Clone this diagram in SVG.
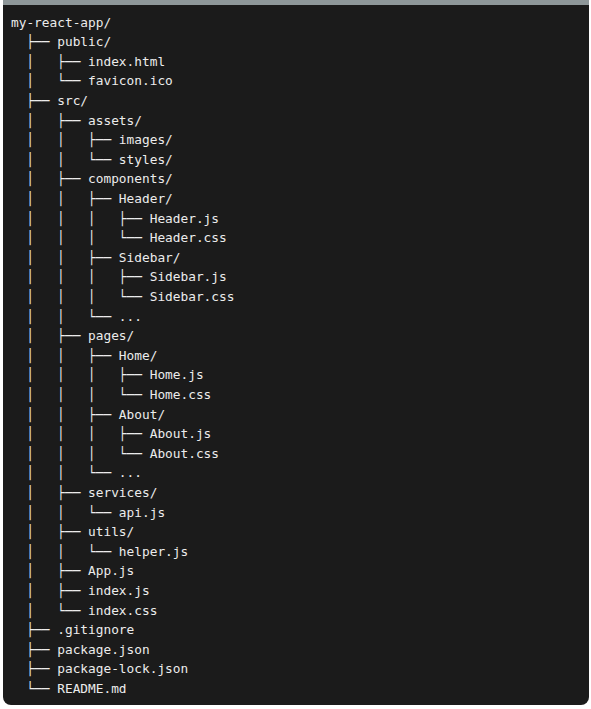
<svg xmlns="http://www.w3.org/2000/svg" width="591" height="709" viewBox="0 0 591 709">
<style>
.t{font-family:"DejaVu Sans Mono","Liberation Mono",monospace;font-size:12.8px;fill:#ececec;white-space:pre}
</style>
<rect x="0" y="0" width="591" height="709" fill="#ffffff"/>
<path d="M3,0 H589 V697 A8,8 0 0 1 581,705 H11 A8,8 0 0 1 3,697 Z" fill="#1b1b1b"/>
<rect x="3" y="0" width="586" height="5" fill="#8e9799"/>
<g id="tree" xml:space="preserve" transform="translate(0,-0.7)">
<text id="n0" class="t" x="11" y="27.3">my-react-app/</text>
<text id="n1" class="t" x="11" y="46.9">  ├── public/</text>
<text id="n2" class="t" x="11" y="66.5">  │   ├── index.html</text>
<text id="n3" class="t" x="11" y="86.1">  │   └── favicon.ico</text>
<text id="n4" class="t" x="11" y="105.7">  ├── src/</text>
<text id="n5" class="t" x="11" y="125.3">  │   ├── assets/</text>
<text id="n6" class="t" x="11" y="144.9">  │   │   ├── images/</text>
<text id="n7" class="t" x="11" y="164.5">  │   │   └── styles/</text>
<text id="n8" class="t" x="11" y="184.1">  │   ├── components/</text>
<text id="n9" class="t" x="11" y="203.7">  │   │   ├── Header/</text>
<text id="n10" class="t" x="11" y="223.3">  │   │   │   ├── Header.js</text>
<text id="n11" class="t" x="11" y="242.9">  │   │   │   └── Header.css</text>
<text id="n12" class="t" x="11" y="262.5">  │   │   ├── Sidebar/</text>
<text id="n13" class="t" x="11" y="282.1">  │   │   │   ├── Sidebar.js</text>
<text id="n14" class="t" x="11" y="301.7">  │   │   │   └── Sidebar.css</text>
<text id="n15" class="t" x="11" y="321.3">  │   │   └── ...</text>
<text id="n16" class="t" x="11" y="340.9">  │   ├── pages/</text>
<text id="n17" class="t" x="11" y="360.5">  │   │   ├── Home/</text>
<text id="n18" class="t" x="11" y="380.1">  │   │   │   ├── Home.js</text>
<text id="n19" class="t" x="11" y="399.7">  │   │   │   └── Home.css</text>
<text id="n20" class="t" x="11" y="419.3">  │   │   ├── About/</text>
<text id="n21" class="t" x="11" y="438.9">  │   │   │   ├── About.js</text>
<text id="n22" class="t" x="11" y="458.5">  │   │   │   └── About.css</text>
<text id="n23" class="t" x="11" y="478.1">  │   │   └── ...</text>
<text id="n24" class="t" x="11" y="497.7">  │   ├── services/</text>
<text id="n25" class="t" x="11" y="517.3">  │   │   └── api.js</text>
<text id="n26" class="t" x="11" y="536.9">  │   ├── utils/</text>
<text id="n27" class="t" x="11" y="556.5">  │   │   └── helper.js</text>
<text id="n28" class="t" x="11" y="576.1">  │   ├── App.js</text>
<text id="n29" class="t" x="11" y="595.7">  │   ├── index.js</text>
<text id="n30" class="t" x="11" y="615.3">  │   └── index.css</text>
<text id="n31" class="t" x="11" y="634.9">  ├── .gitignore</text>
<text id="n32" class="t" x="11" y="654.5">  ├── package.json</text>
<text id="n33" class="t" x="11" y="674.1">  ├── package-lock.json</text>
<text id="n34" class="t" x="11" y="693.7">  └── README.md</text>
</g>
</svg>
